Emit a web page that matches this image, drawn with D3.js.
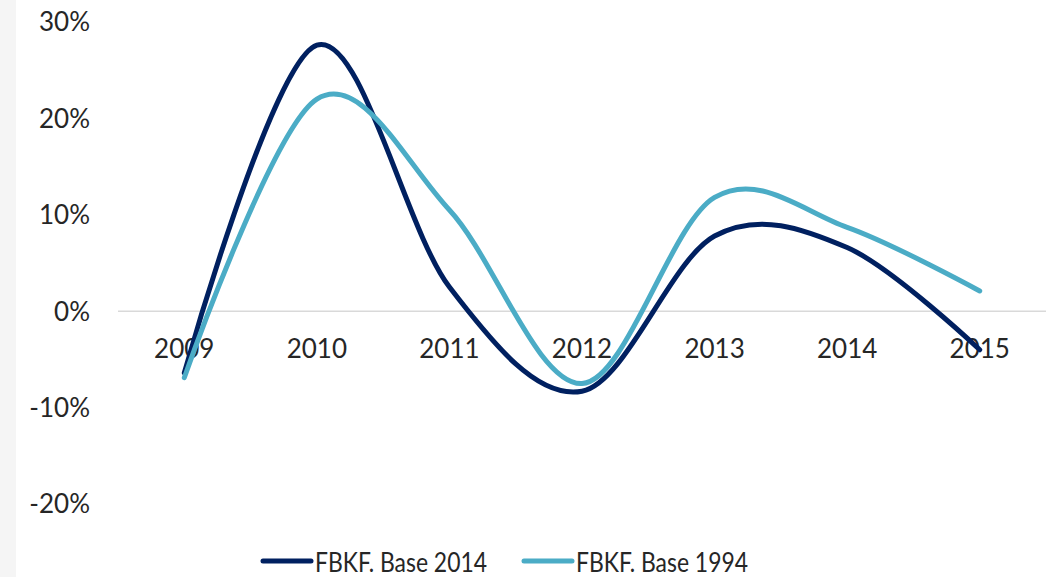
<!DOCTYPE html>
<html>
<head>
<meta charset="utf-8">
<script src="https://cdn.jsdelivr.net/npm/d3@7"></script>
<style>
  body { margin: 0; background: #fff; }
  text { font-family: Lato, "Noto Sans", sans-serif; fill: #262626; }
</style>
</head>
<body>
<script>
var years = ["2009", "2010", "2011", "2012", "2013", "2014", "2015"];
var base2014 = [-6.4, 27.6, 2.5, -8.3, 7.8, 6.6, -4.0];
var base1994 = [-6.9, 22.0, 10.5, -7.5, 11.8, 8.7, 2.1];
var yTicks = [-20, -10, 0, 10, 20, 30];
var seriesNames = ["FBKF. Base 2014", "FBKF. Base 1994"];
var seriesColors = ["#002060", "#4bacc6"];

var w = 1053;
var h = 577;

var svg = d3.select("body")
            .append("svg")
            .attr("width", w)
            .attr("height", h);

// faint strip on the left edge
svg.append("rect")
   .attr("x", 0).attr("y", 0)
   .attr("width", 16).attr("height", h)
   .attr("fill", "#f5f5f5");

var x = d3.scaleBand()
          .domain(years)
          .range([118, 1046]);

var y = d3.scaleLinear()
          .domain([-20, 30])
          .range([504, 22]);

// y labels
svg.selectAll(".ylab")
   .data(yTicks)
   .enter()
   .append("text")
   .attr("class", "ylab")
   .attr("x", 90)
   .attr("y", function(d){ return y(d); })
   .attr("dy", "0.36em")
   .attr("text-anchor", "end")
   .style("font-size", "26px")
   .text(function(d){ return d + "%"; });

// zero line
svg.append("line")
   .attr("x1", x.range()[0])
   .attr("x2", x.range()[1])
   .attr("y1", y(0))
   .attr("y2", y(0))
   .attr("stroke", "#d9d9d9")
   .attr("stroke-width", 1.5);

// category labels
svg.selectAll(".xlab")
   .data(years)
   .enter()
   .append("text")
   .attr("class", "xlab")
   .attr("x", function(d){ return x(d) + x.bandwidth()/2; })
   .attr("y", 358)
   .attr("text-anchor", "middle")
   .style("font-size", "26px")
   .text(function(d){ return d; });

var line = d3.line()
             .x(function(d, i){ return x(years[i]) + x.bandwidth()/2; })
             .y(function(d){ return y(d); })
             .curve(d3.curveCardinal.tension(0));

var allSeries = [base2014, base1994];

svg.selectAll(".series")
   .data(allSeries)
   .enter()
   .append("path")
   .attr("class", "series")
   .attr("d", line)
   .attr("fill", "none")
   .attr("stroke", function(d, i){ return seriesColors[i]; })
   .attr("stroke-width", 5)
   .attr("stroke-linecap", "round");

// legend
var legendX = [263, 524];
var leg = svg.selectAll(".leg")
             .data(seriesNames)
             .enter()
             .append("g")
             .attr("class", "leg")
             .attr("transform", function(d, i){ return "translate(" + legendX[i] + ",561)"; });

leg.append("line")
   .attr("x1", 0).attr("x2", 48)
   .attr("y1", 0).attr("y2", 0)
   .attr("stroke", function(d, i){ return seriesColors[i]; })
   .attr("stroke-width", 5)
   .attr("stroke-linecap", "round");

leg.append("text")
   .attr("x", 52)
   .attr("y", 11)
   .attr("textLength", 172)
   .attr("lengthAdjust", "spacingAndGlyphs")
   .style("font-size", "27px")
   .text(function(d){ return d; });
</script>
</body>
</html>
